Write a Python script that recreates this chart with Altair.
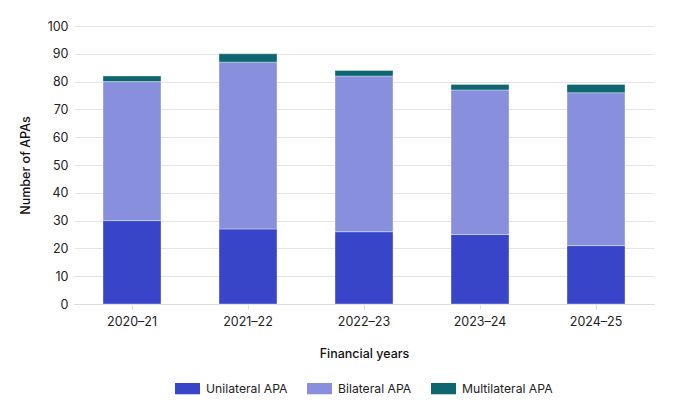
import altair as alt
import pandas as pd

years = ["2020–21", "2021–22", "2022–23", "2023–24", "2024–25"]
unilateral = [30, 27, 26, 25, 21]
bilateral = [50, 60, 56, 52, 55]
multilateral = [2, 3, 2, 2, 3]
series = ["Unilateral APA", "Bilateral APA", "Multilateral APA"]
colors = ["#3845C8", "#8890DE", "#0E6670"]

rows = []
for i, y in enumerate(years):
    for k, (name, vals) in enumerate(zip(series, [unilateral, bilateral, multilateral])):
        rows.append({"year": y, "type": name, "value": vals[i], "order": k})
df = pd.DataFrame(rows)

font = "Inter"
fs = 12.5
chart = alt.Chart(df).mark_bar(strokeWidth=1, strokeOpacity=0.35, stroke="#ffffff").encode(
    x=alt.X("year:N", sort=years, title="Financial years",
            scale=alt.Scale(paddingInner=0.5, paddingOuter=0.25),
            axis=alt.Axis(labelAngle=0, labelFontSize=fs, labelColor="#222222",
                          titleFontSize=fs, titleFontWeight=500, titleColor="#111111",
                          titlePadding=20, labelPadding=6, tickSize=5, tickColor="#dddddd",
                          domainColor="#dddddd", labelFont=font, titleFont=font)),
    y=alt.Y("value:Q", title="Number of APAs", stack="zero",
            scale=alt.Scale(domain=[0, 100]),
            axis=alt.Axis(values=list(range(0, 101, 10)), labelFontSize=fs, labelColor="#222222",
                          titleFontSize=fs, titleFontWeight=500, titleColor="#111111",
                          domain=False, ticks=False, gridColor="#e4e4e4", labelPadding=6,
                          titlePadding=15, labelFont=font, titleFont=font)),
    color=alt.Color("type:N", sort=series, scale=alt.Scale(domain=series, range=colors),
                    legend=alt.Legend(title=None, orient="none", direction="horizontal",
                                      legendX=101, legendY=350,
                                      symbolType="M-1,-0.45H1V0.45H-1Z", symbolSize=625,
                                      symbolStrokeWidth=0, labelFontSize=12.2, labelColor="#222222",
                                      labelFont=font, labelOffset=6, columnPadding=19)),
    order=alt.Order("order:Q"),
).properties(width=580, height=278, padding={"left": 11, "top": 12, "right": 5, "bottom": 5}).configure_view(stroke=None)

chart.save("out.html", embed_options={"renderer": "svg", "actions": False})
